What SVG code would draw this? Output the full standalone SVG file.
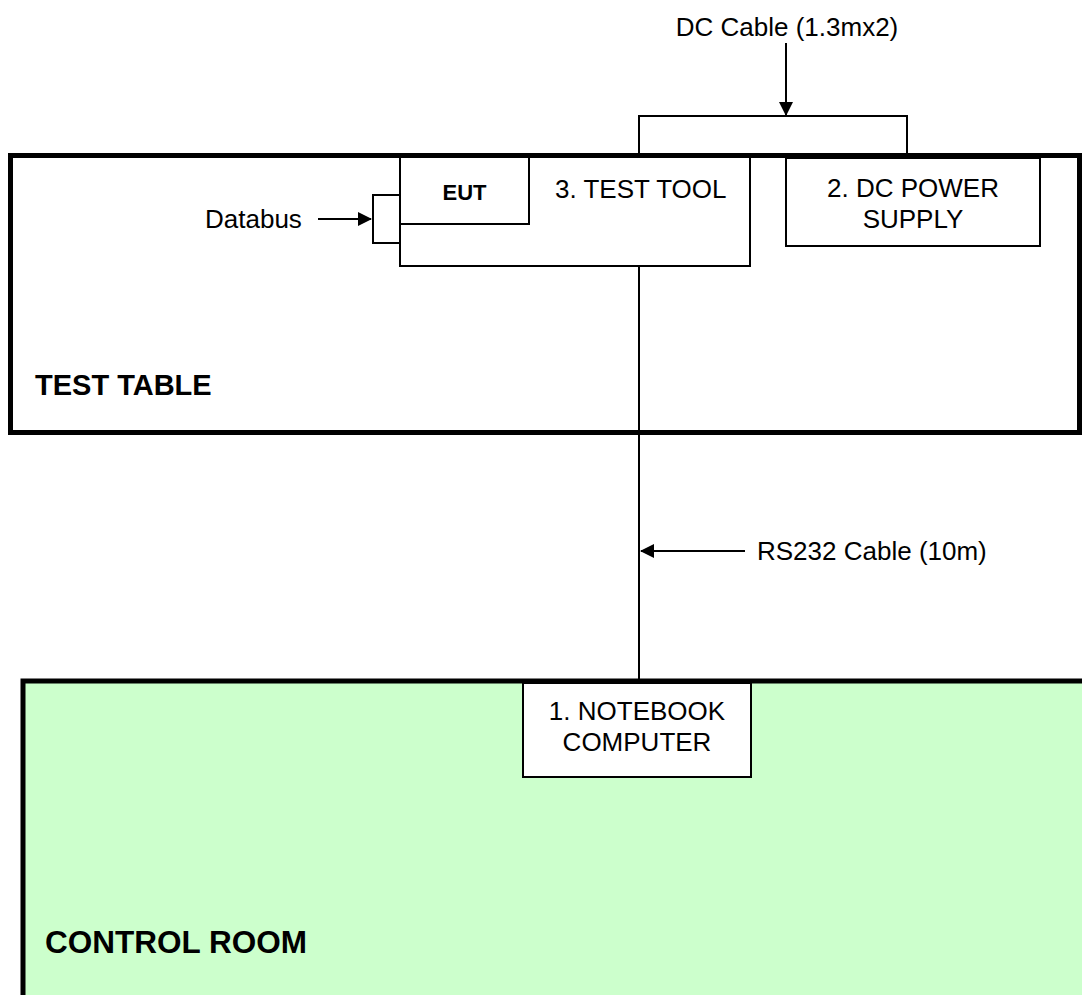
<svg xmlns="http://www.w3.org/2000/svg" width="1082" height="995" viewBox="0 0 1082 995">
<style>
.t{font-family:"Liberation Sans",Arial,sans-serif;font-size:26px;fill:#000}
.b{font-family:"Liberation Sans",Arial,sans-serif;font-weight:bold;fill:#000}
.box{fill:#fff;stroke:#000;stroke-width:2}
.ln{fill:none;stroke:#000;stroke-width:2}
</style>
<defs>
<marker id="ah" markerWidth="14" markerHeight="14" refX="13" refY="7" orient="auto" markerUnits="userSpaceOnUse">
<path d="M0,0 L14,7 L0,14 Z" fill="#000"/>
</marker>
</defs>
<rect width="1082" height="995" fill="#fff"/>
<g id="test-table">
<rect x="10.5" y="155.5" width="1069" height="277" fill="#fff" stroke="#000" stroke-width="5"/>
<text class="b" x="35" y="395" font-size="29">TEST TABLE</text>
</g>
<g id="control-room">
<rect x="23" y="681" width="1080" height="340" fill="#CCFFCC" stroke="#000" stroke-width="5"/>
<text class="b" x="45" y="953" font-size="31.5">CONTROL ROOM</text>
</g>
<g id="connectors">
<path class="ln" d="M639,155 V116 H907 V155"/>
<line class="ln" x1="786" y1="43" x2="786" y2="115" marker-end="url(#ah)"/>
<line class="ln" x1="639" y1="267" x2="639" y2="681"/>
<line class="ln" x1="745" y1="551" x2="641" y2="551" marker-end="url(#ah)"/>
<line class="ln" x1="318" y1="219" x2="371" y2="219" marker-end="url(#ah)"/>
</g>
<g id="test-tool">
<rect class="box" x="400" y="157" width="350" height="109"/>
<text class="t" x="555" y="198">3. TEST TOOL</text>
</g>
<g id="eut">
<rect class="box" x="400" y="157" width="129" height="67"/>
<text class="b" x="464.5" y="200" font-size="22" text-anchor="middle">EUT</text>
</g>
<g id="databus-connector">
<rect class="box" x="373" y="195" width="27" height="48"/>
</g>
<g id="databus-label">
<text class="t" x="205" y="228">Databus</text>
</g>
<g id="dc-power-supply">
<rect class="box" x="786" y="158" width="254" height="88"/>
<text class="t" x="913" y="197" text-anchor="middle">2. DC POWER</text>
<text class="t" x="913" y="228" text-anchor="middle">SUPPLY</text>
</g>
<g id="dc-cable-label">
<text class="t" x="787" y="36" text-anchor="middle">DC Cable (1.3mx2)</text>
</g>
<g id="rs232-label">
<text class="t" x="757" y="560" font-size="26.5">RS232 Cable (10m)</text>
</g>
<g id="notebook">
<rect class="box" x="523" y="683" width="228" height="94"/>
<text class="t" x="637" y="720" text-anchor="middle">1. NOTEBOOK</text>
<text class="t" x="637" y="751" text-anchor="middle">COMPUTER</text>
</g>
</svg>
